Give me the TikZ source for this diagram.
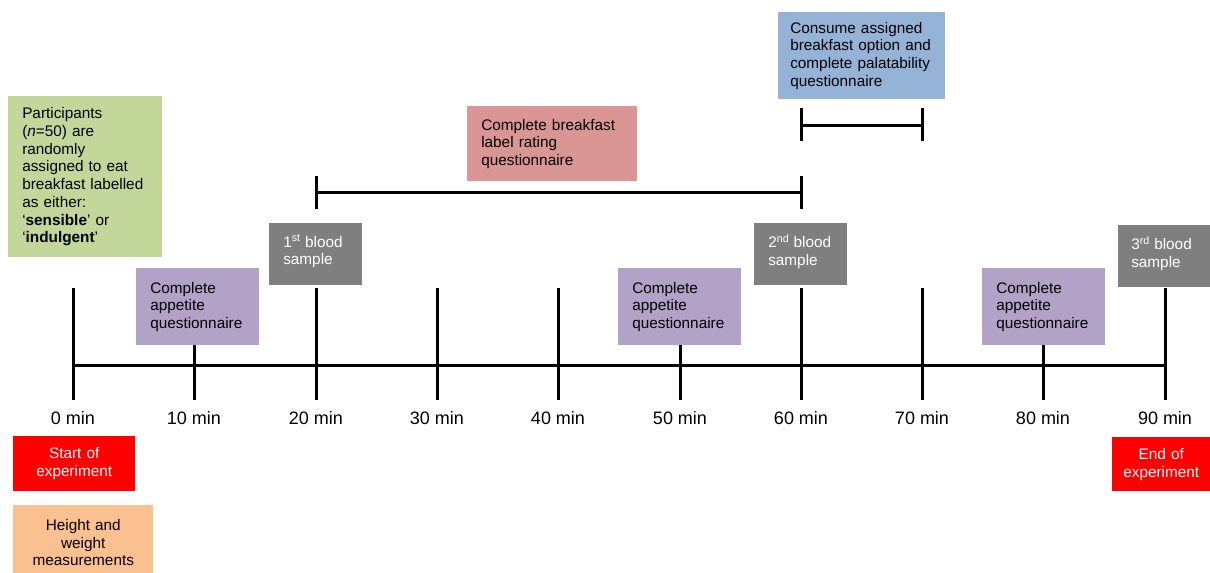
\documentclass[tikz,border=0pt]{standalone}
\usepackage{fontspec}
\setmainfont{Liberation Sans}
\definecolor{cgreen}{HTML}{C4D79B}
\definecolor{cpurple}{HTML}{B3A2C7}
\definecolor{cgrey}{HTML}{7F7F7F}
\definecolor{cpink}{HTML}{D99694}
\definecolor{cblue}{HTML}{95B3D7}
\definecolor{cred}{HTML}{FF0000}
\definecolor{cpeach}{HTML}{FAC090}
\tikzset{
  line/.style={line width=2.25pt, black},
  boxfont/.style={font=\fontsize{11.5}{13.3}\selectfont},
  box/.style={boxfont, anchor=north west, inner sep=0pt, align=left, text=black},
  cbox/.style={boxfont, anchor=north west, inner sep=0pt, align=center},
  greybox/.style={anchor=north west, inner sep=0pt, fill=cgrey},
  greytext/.style={boxfont, anchor=north west, inner sep=0pt, align=left, text=white},
  tlabel/.style={font=\fontsize{13.5}{15}\selectfont, inner sep=0pt}
}
\begin{document}
\begin{tikzpicture}[x=0.75pt,y=-0.75pt]
\clip (0,0) rectangle (1210,572);
% timeline
\foreach \i/\x in {0/73,1/194,2/316,3/437,4/558,5/680,6/801,7/922,8/1043,9/1165}{
  \coordinate (t\i) at (\x,365);
  \coordinate (tt\i) at (\x,288);
  \coordinate (tb\i) at (\x,400);
  \draw[line] (tt\i) -- (tb\i);
}
\draw[line] (t0) -- (t9);
% time labels
\foreach \i/\x in {0/73,1/194,2/316,3/437,4/558,5/680,6/801,7/922,8/1043,9/1165}{
  \pgfmathtruncatemacro{\m}{\i*10}
  \node[tlabel] (l\i) at (\x,418) {\m\ min};
}
% brackets
\coordinate (a1) at (316,192); \coordinate (a2) at (801,192);
\draw[line] (316,176) -- (316,209);
\draw[line] (801,176) -- (801,209);
\draw[line] (a1) -- (a2);
\coordinate (b1) at (801,125); \coordinate (b2) at (922,125);
\draw[line] (801,108) -- (801,141);
\draw[line] (922,108) -- (922,141);
\draw[line] (b1) -- (b2);
% green box
\node[box, fill=cgreen, minimum width=115.5pt, minimum height=120.75pt, text width=94.5pt] (green) at (8,96)
 {Participants\\(\textit{n}=50) are\\randomly\\assigned to eat\\breakfast labelled\\as either:\\‘\textbf{sensible}’ or\\‘\textbf{indulgent}’};
% purple boxes
\foreach \n/\x in {p1/136,p5/618,p8/982}{
  \node[box, fill=cpurple, minimum width=92.25pt, minimum height=57.75pt, text width=71.25pt] (\n) at (\x,268)
   {Complete\\appetite\\questionnaire};
}
% grey boxes
\node[greybox, minimum width=69.75pt, minimum height=46.5pt] (g1) at (269,223) {};
\node[greytext] (g1t) at (283,234) {1\textsuperscript{st} blood\\sample};
\node[greybox, minimum width=69.75pt, minimum height=46.5pt] (g2) at (754,223) {};
\node[greytext] (g2t) at (768,234) {2\textsuperscript{nd} blood\\sample};
\node[greybox, minimum width=69pt, minimum height=46.5pt] (g3) at (1118,225) {};
\node[greytext] (g3t) at (1131,236) {3\textsuperscript{rd} blood\\sample};
% pink box
\node[box, fill=cpink, minimum width=127.5pt, minimum height=56.25pt, text width=106.5pt] (pink) at (467,106)
 {Complete breakfast\\label rating\\questionnaire};
% blue box
\node[box, fill=cblue, minimum width=125.25pt, minimum height=65.25pt, text width=107.25pt] (blue) at (778,12)
 {Consume assigned\\breakfast option and\\complete palatability\\questionnaire};
% red boxes
\node[cbox, fill=cred, text=white, minimum width=91.5pt, minimum height=41.25pt, text width=80pt] (start) at (13,436)
 {Start of\\experiment};
\node[cbox, fill=cred, text=white, minimum width=73.5pt, minimum height=40.5pt, text width=70pt] (end) at (1112,437)
 {End of\\experiment};
% peach box
\node[cbox, fill=cpeach, text=black, minimum width=105pt, minimum height=56.25pt, text width=100pt] (height) at (13,505)
 {Height and\\weight\\measurements};
\end{tikzpicture}
\end{document}
